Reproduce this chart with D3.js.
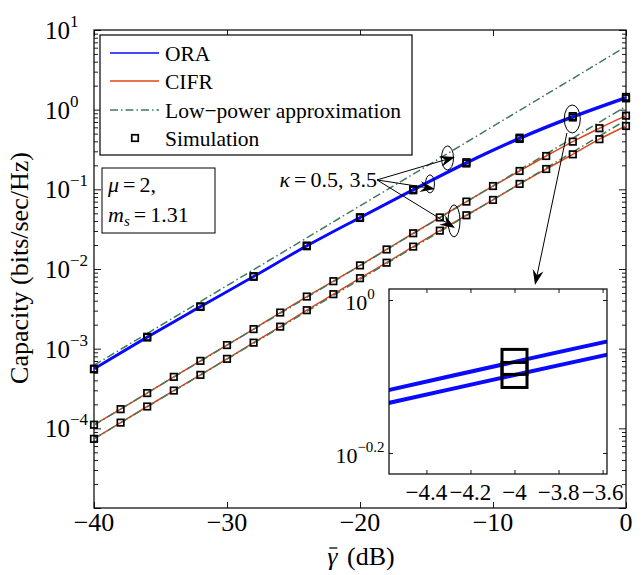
<!DOCTYPE html>
<html>
<head>
<meta charset="utf-8">
<script src="https://cdnjs.cloudflare.com/ajax/libs/d3/7.8.5/d3.min.js"></script>
<style>
body { margin: 0; background: #fff; }
</style>
</head>
<body>
<svg id="chart"></svg>
<script>
// SNR grids (dB)
const snrOra = [-40, -36, -32, -28, -24, -20, -16, -12, -8, -4, 0];
const snrCifr = [-40, -38, -36, -34, -32, -30, -28, -26, -24, -22, -20, -18, -16, -14, -12, -10, -8, -6, -4, -2, 0];

// ORA capacity, kappa = 0.5 and 3.5
const oraKappa05 = [5.62e-4, 1.41e-3, 3.40e-3, 8.13e-3, 1.97e-2, 4.47e-2, 0.100, 0.219, 0.445, 0.830, 1.445];
const oraKappa35 = [5.52e-4, 1.38e-3, 3.34e-3, 7.98e-3, 1.93e-2, 4.37e-2, 0.0973, 0.211, 0.429, 0.798, 1.387];

// CIFR capacity, two kappa values
const cifrKappa05 = [1.11e-4, 1.74e-4, 2.77e-4, 4.43e-4, 7.03e-4, 1.11e-3, 1.76e-3, 2.84e-3, 4.51e-3, 7.03e-3,
    1.11e-2, 1.76e-2, 2.81e-2, 4.44e-2, 7.02e-2, 0.110, 0.170, 0.262, 0.397, 0.585, 0.841];
const cifrKappa35 = [7.38e-5, 1.18e-4, 1.88e-4, 2.98e-4, 4.69e-4, 7.45e-4, 1.19e-3, 1.89e-3, 3.04e-3, 4.83e-3,
    7.67e-3, 1.20e-2, 1.91e-2, 3.03e-2, 4.73e-2, 7.36e-2, 0.117, 0.180, 0.275, 0.426, 0.624];

// low-power approximations (on the ORA grid)
const lowPowerOra = [6.2e-4, 1.55e-3, 3.9e-3, 9.8e-3, 2.46e-2, 6.2e-2, 0.155, 0.39, 0.98, 2.46, 6.2];
const lowPowerCifr05 = [1.1e-4, 2.78e-4, 6.97e-4, 1.75e-3, 4.4e-3, 1.1e-2, 2.78e-2, 6.97e-2, 0.175, 0.44, 1.1];
const lowPowerCifr35 = [7.4e-5, 1.86e-4, 4.67e-4, 1.17e-3, 2.94e-3, 7.4e-3, 1.86e-2, 4.67e-2, 0.117, 0.294, 0.74];

const xTickValues = [-40, -30, -20, -10, 0];
const yDecades = [-4, -3, -2, -1, 0, 1];
const insetXTicks = [-4.4, -4.2, -4, -3.8, -3.6];
const insetYTicks = [0, -0.2];
const legendLabels = ["ORA", "CIFR", "Low\u2212power approximation", "Simulation"];

const colors = {ora: "#0a0aff", cifr: "#e2441c", approx: "#3f7a5c"};

const svgWidth = 644, svgHeight = 575;
const plot = {left: 94, right: 626, top: 30, bottom: 508};

const chart = d3.select("#chart")
    .attr("width", svgWidth)
    .attr("height", svgHeight);

var xScale = d3.scaleLinear().domain([-40, 0]).range([plot.left, plot.right]);
var yScale = d3.scaleLog().domain([1e-5, 10]).range([plot.bottom, plot.top]);

function zip(xs, ys) { return xs.map((d, i) => ({snr: d, value: ys[i]})); }

function minus(v) { return String(v).replace("-", "\u2212"); }

function label(sel, size) {
    return sel.append("text")
        .attr("font-family", "Liberation Serif")
        .attr("font-size", size)
        .attr("fill", "#000");
}

// ---- axes (inward ticks on all four sides)
function tickAxis(axis, transform, size, values) {
    chart.append("g")
        .attr("transform", transform)
        .call(axis.tickValues(values).tickSizeInner(-size).tickSizeOuter(0).tickFormat(""))
        .call(g => g.select(".domain").remove())
        .call(g => g.selectAll("line").attr("stroke", "#000").attr("stroke-width", 0.9));
}

var minorY = [];
for (let p = -5; p < 1; p++) for (let m = 2; m <= 9; m++) minorY.push(m * Math.pow(10, p));
var majorY = [-5].concat(yDecades).map(p => Math.pow(10, p));

tickAxis(d3.axisBottom(xScale), `translate(0,${plot.bottom})`, 6, xTickValues);
tickAxis(d3.axisTop(xScale), `translate(0,${plot.top})`, 6, xTickValues);
tickAxis(d3.axisLeft(yScale), `translate(${plot.left},0)`, 7, majorY);
tickAxis(d3.axisLeft(yScale), `translate(${plot.left},0)`, 4, minorY);
tickAxis(d3.axisRight(yScale), `translate(${plot.right},0)`, 7, majorY);
tickAxis(d3.axisRight(yScale), `translate(${plot.right},0)`, 4, minorY);

chart.append("rect")
    .attr("x", plot.left).attr("y", plot.top)
    .attr("width", plot.right - plot.left).attr("height", plot.bottom - plot.top)
    .attr("fill", "none").attr("stroke", "#000").attr("stroke-width", 1.2);

// tick labels
xTickValues.forEach(d => {
    label(chart, 26)
        .attr("x", xScale(d)).attr("y", 531)
        .attr("text-anchor", "middle")
        .text(minus(d));
});

yDecades.forEach(p => {
    var t = label(chart, 25)
        .attr("x", 45).attr("y", yScale(Math.pow(10, p)) + 9);
    t.append("tspan").text("10");
    t.append("tspan").attr("dy", -12).attr("font-size", 17).text(minus(p));
});

// axis titles
var xt = label(chart, 26)
    .attr("x", 361).attr("y", 565)
    .attr("text-anchor", "middle");
xt.append("tspan").attr("class", "gam").attr("font-style", "italic").text("\u03b3");
xt.append("tspan").attr("dx", 3).text("\u00a0(dB)");
var gb = xt.select(".gam").node().getBBox();
chart.append("line")
    .attr("x1", gb.x + 2).attr("x2", gb.x + gb.width - 1)
    .attr("y1", gb.y + 6).attr("y2", gb.y + 6)
    .attr("stroke", "#000").attr("stroke-width", 1.3);

label(chart, 26)
    .attr("transform", "translate(28,268) rotate(-90)")
    .attr("text-anchor", "middle")
    .text("Capacity (bits/sec/Hz)");

// ---- curves
var valueline = d3.line()
    .x(d => xScale(d.snr))
    .y(d => yScale(d.value))
    .curve(d3.curveMonotoneX);

var straightline = d3.line()
    .x(d => xScale(d.snr))
    .y(d => yScale(d.value));

var plotArea = chart.append("g");

[cifrKappa05, cifrKappa35].forEach(s => {
    plotArea.append("path").datum(zip(snrCifr, s))
        .attr("d", valueline).attr("fill", "none")
        .attr("stroke", colors.cifr).attr("stroke-width", 1.5);
});
[oraKappa05, oraKappa35].forEach(s => {
    plotArea.append("path").datum(zip(snrOra, s))
        .attr("d", valueline).attr("fill", "none")
        .attr("stroke", colors.ora).attr("stroke-width", 2.2);
});
[lowPowerOra, lowPowerCifr05, lowPowerCifr35].forEach(s => {
    plotArea.append("path").datum(zip(snrOra, s))
        .attr("d", straightline).attr("fill", "none")
        .attr("stroke", colors.approx).attr("stroke-width", 1.5)
        .attr("stroke-dasharray", "8,3,1.5,3");
});

// simulation markers
var simPoints = zip(snrOra, oraKappa05).concat(zip(snrOra, oraKappa35),
    zip(snrCifr, cifrKappa05), zip(snrCifr, cifrKappa35));
plotArea.selectAll(".dot").data(simPoints).enter().append("rect")
    .attr("class", "dot")
    .attr("x", d => xScale(d.snr) - 3.25).attr("y", d => yScale(d.value) - 3.25)
    .attr("width", 6.5).attr("height", 6.5)
    .attr("fill", "none").attr("stroke", "#000").attr("stroke-width", 1.7);

// ---- annotations (dB, log10 value)
function pt(snr, lg) { return [xScale(snr), yScale(Math.pow(10, lg))]; }

function arrow(from, to) {
    var dx = to[0] - from[0], dy = to[1] - from[1];
    var len = Math.sqrt(dx * dx + dy * dy), ux = dx / len, uy = dy / len;
    var L = 15, W = 5.5, N = 10;
    chart.append("line")
        .attr("x1", from[0]).attr("y1", from[1])
        .attr("x2", to[0] - ux * N).attr("y2", to[1] - uy * N)
        .attr("stroke", "#000").attr("stroke-width", 1);
    var pts = [
        [to[0], to[1]],
        [to[0] - ux * L - uy * W, to[1] - uy * L + ux * W],
        [to[0] - ux * N, to[1] - uy * N],
        [to[0] - ux * L + uy * W, to[1] - uy * L - ux * W]
    ];
    chart.append("polygon").attr("points", pts.map(p => p.join(",")).join(" ")).attr("fill", "#000");
}

function ellipse(c, rx, ry) {
    chart.append("ellipse").attr("cx", c[0]).attr("cy", c[1])
        .attr("rx", rx).attr("ry", ry)
        .attr("fill", "none").attr("stroke", "#000").attr("stroke-width", 1);
}

ellipse(pt(-13.42, -0.606), 6, 12);
ellipse(pt(-14.74, -0.932), 4.5, 9);
ellipse(pt(-12.93, -1.396), 6, 16);
ellipse(pt(-4.04, -0.117), 8, 14);

var kStart = pt(-18.72, -0.882);
arrow(kStart, pt(-12.86, -0.593));
arrow(kStart, pt(-14.36, -0.995));
arrow(kStart, pt(-12.86, -1.484));
arrow(pt(-4.44, -0.292), pt(-6.84, -2.2));

var kt = label(chart, 22)
    .attr("x", kStart[0]).attr("y", kStart[1] + 7)
    .attr("text-anchor", "end");
kt.append("tspan").attr("font-style", "italic").text("\u03ba");
kt.append("tspan").attr("dx", 4).text("=");
kt.append("tspan").attr("dx", 4).text("0.5,");
kt.append("tspan").attr("dx", 6).text("3.5");

// ---- legend
chart.append("rect")
    .attr("x", 100).attr("y", 35).attr("width", 312).attr("height", 120)
    .attr("fill", "#fff").attr("stroke", "#000").attr("stroke-width", 1.2);

var legendY = [53, 81, 110, 138];
var legendStyle = [
    {stroke: colors.ora, dash: null},
    {stroke: colors.cifr, dash: null},
    {stroke: colors.approx, dash: "8,3,1.5,3"}
];
legendStyle.forEach((s, i) => {
    chart.append("line")
        .attr("x1", 110).attr("x2", 159)
        .attr("y1", legendY[i]).attr("y2", legendY[i])
        .attr("stroke", s.stroke).attr("stroke-width", 1.5)
        .attr("stroke-dasharray", s.dash);
});
chart.append("rect")
    .attr("x", 131.75).attr("y", legendY[3] - 3.25).attr("width", 6.5).attr("height", 6.5)
    .attr("fill", "none").attr("stroke", "#000").attr("stroke-width", 1.7);
legendLabels.forEach((d, i) => {
    label(chart, 21.5)
        .attr("x", 165).attr("y", legendY[i] + 7.5)
        .text(d);
});

// ---- parameter box
chart.append("rect")
    .attr("x", 102).attr("y", 168).attr("width", 113).attr("height", 65)
    .attr("fill", "#fff").attr("stroke", "#000").attr("stroke-width", 1);
var p1 = label(chart, 22).attr("x", 108).attr("y", 192);
p1.append("tspan").attr("font-style", "italic").text("\u03bc");
p1.append("tspan").attr("dx", 4).text("=");
p1.append("tspan").attr("dx", 4).text("2,");
var p2 = label(chart, 22).attr("x", 108).attr("y", 222);
p2.append("tspan").attr("font-style", "italic").text("m");
p2.append("tspan").attr("dy", 4).attr("font-style", "italic").attr("font-size", 15).text("s");
p2.append("tspan").attr("dy", -4).attr("dx", 4).text("=");
p2.append("tspan").attr("dx", 4).text("1.31");

// ---- inset
const inset = {left: 389, right: 607, top: 289, bottom: 474};
var ix = d3.scaleLinear().domain([-4.57, -3.58]).range([inset.left, inset.right]);
var iy = d3.scaleLog().domain([Math.pow(10, -0.2275), Math.pow(10, 0.0144)]).range([inset.bottom, inset.top]);

chart.append("rect")
    .attr("x", inset.left).attr("y", inset.top)
    .attr("width", inset.right - inset.left).attr("height", inset.bottom - inset.top)
    .attr("fill", "#fff");

chart.append("clipPath").attr("id", "insetClip").append("rect")
    .attr("x", inset.left).attr("y", inset.top)
    .attr("width", inset.right - inset.left).attr("height", inset.bottom - inset.top);

var insetG = chart.append("g").attr("clip-path", "url(#insetClip)");
var insetLine = d3.line()
    .x(d => ix(d.snr))
    .y(d => iy(d.value))
    .curve(d3.curveMonotoneX);

[oraKappa05, oraKappa35].forEach(s => {
    insetG.append("path").datum(zip(snrOra, s))
        .attr("d", insetLine).attr("fill", "none")
        .attr("stroke", colors.ora).attr("stroke-width", 4);
});
insetG.selectAll(".idot").data(zip(snrOra, oraKappa05).concat(zip(snrOra, oraKappa35))).enter()
    .append("rect").attr("class", "idot")
    .attr("x", d => ix(d.snr) - 12.5).attr("y", d => iy(d.value) - 12.5)
    .attr("width", 25).attr("height", 25)
    .attr("fill", "none").attr("stroke", "#000").attr("stroke-width", 3);

tickAxis(d3.axisBottom(ix), `translate(0,${inset.bottom})`, 4, insetXTicks);
tickAxis(d3.axisTop(ix), `translate(0,${inset.top})`, 4, insetXTicks);
var iyVals = insetYTicks.map(p => Math.pow(10, p));
tickAxis(d3.axisLeft(iy), `translate(${inset.left},0)`, 4, iyVals);
tickAxis(d3.axisRight(iy), `translate(${inset.right},0)`, 4, iyVals);

chart.append("rect")
    .attr("x", inset.left).attr("y", inset.top)
    .attr("width", inset.right - inset.left).attr("height", inset.bottom - inset.top)
    .attr("fill", "none").attr("stroke", "#000").attr("stroke-width", 1.2);

insetXTicks.forEach(d => {
    label(chart, 23)
        .attr("x", ix(d)).attr("y", 500)
        .attr("text-anchor", "middle")
        .text(minus(d));
});

insetYTicks.forEach(p => {
    var t = label(chart, 22)
        .attr("x", 360).attr("y", iy(Math.pow(10, p)) + 10)
        .attr("text-anchor", "middle");
    t.append("tspan").text("10");
    t.append("tspan").attr("dy", -11).attr("font-size", 15).text(minus(p));
});
</script>
</body>
</html>
